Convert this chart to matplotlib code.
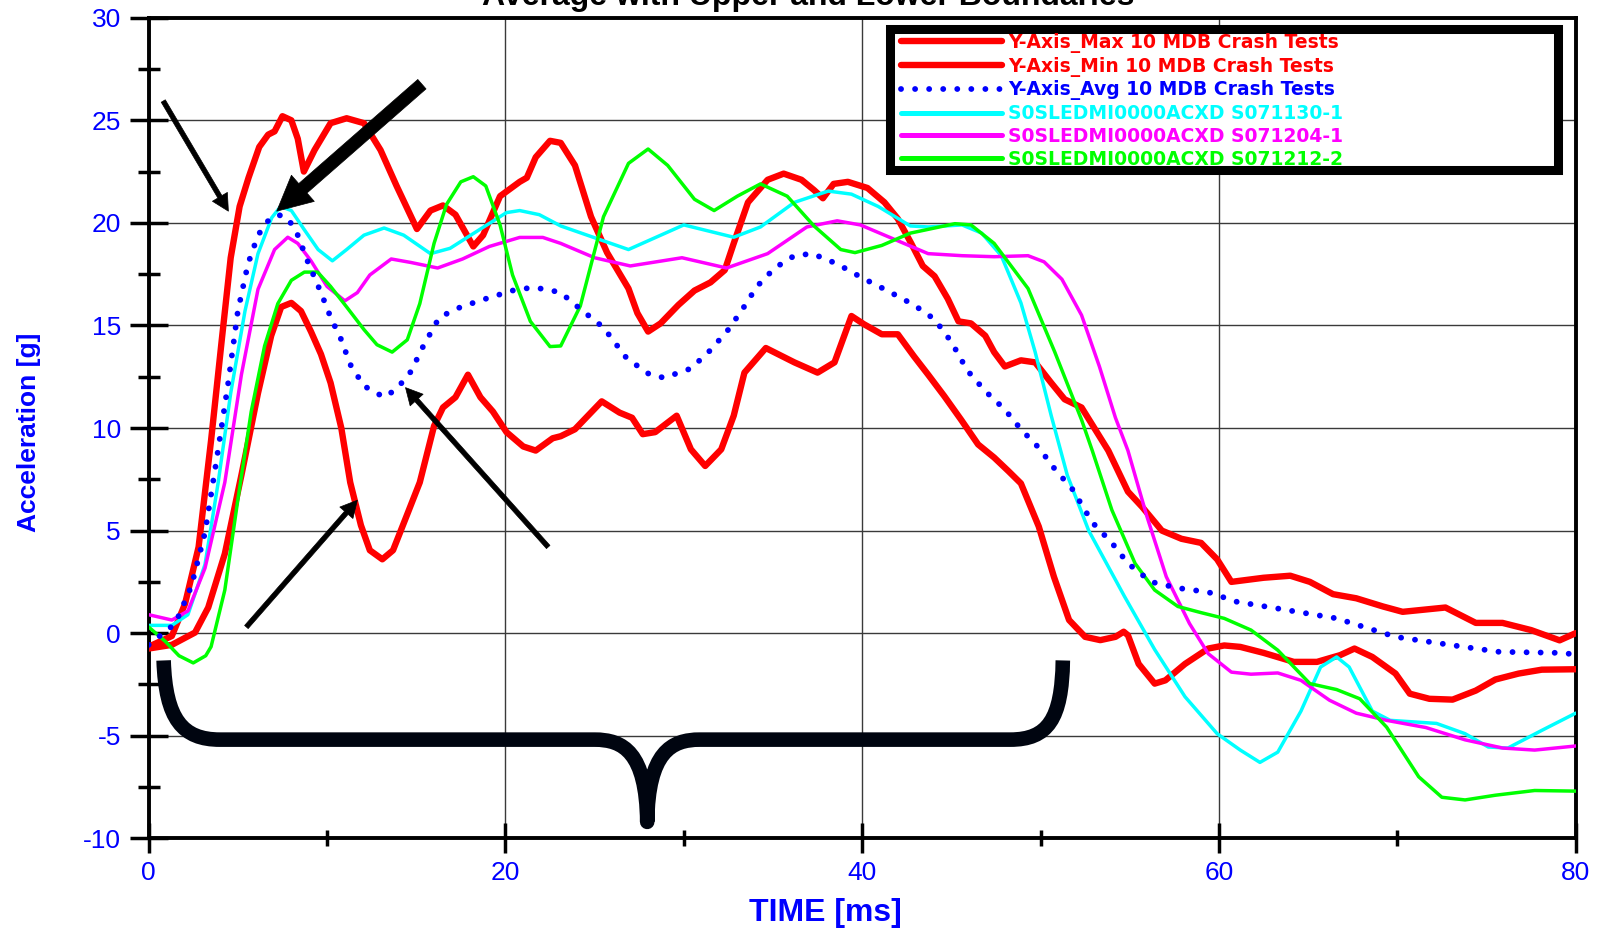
import matplotlib
matplotlib.use("Agg")
import matplotlib.pyplot as plt
from matplotlib.patches import Rectangle, PathPatch
from matplotlib.path import Path
import numpy as np

plt.rcParams['font.family'] = ['Liberation Sans', 'DejaVu Sans']
plt.rcParams['axes.unicode_minus'] = False

# --- data (time in ms, acceleration in g) ---
max_t = [0, 1.3, 2.04, 2.8, 3.5, 4.1, 4.6, 5.1, 5.6, 6.2, 6.7, 7.06, 7.5, 8.0, 8.36, 8.7,
         9.3, 10.2, 11.1, 12.07, 13.0, 13.9, 15.04, 15.8, 16.5, 17.2, 18.2, 18.75, 19.7,
         20.8, 21.2, 21.7, 22.5, 23.1, 23.9, 24.8, 25.7, 26.9, 27.4, 28.0, 28.7, 29.7, 30.6,
         31.5, 32.3, 32.8, 33.6, 34.7, 35.6, 36.6, 37.3, 37.8, 38.4, 39.2, 40.3, 41.25, 42.0,
         42.75, 43.4, 44.06, 44.8, 45.4, 46.1, 46.9, 47.4, 48.0, 48.9, 49.7, 50.6, 51.35,
         52.3, 53.8, 54.9, 55.7, 56.8, 57.9, 59.0, 59.9, 60.7, 62.5, 64.0, 65.1, 66.4, 67.7,
         69.2, 70.3, 72.7, 74.4, 75.9, 77.5, 79.1, 80]
max_g = [-0.66, -0.14, 1.43, 4.2, 9.4, 14.3, 18.3, 20.8, 22.2, 23.7, 24.3, 24.46, 25.2, 25.0,
         24.1, 22.5, 23.55, 24.86, 25.1, 24.86, 23.55, 21.8, 19.7, 20.6, 20.85, 20.4, 18.85,
         19.4, 21.3, 22.0, 22.2, 23.2, 24.0, 23.9, 22.8, 20.3, 18.55, 16.8, 15.6, 14.7, 15.1,
         16.0, 16.7, 17.1, 17.7, 19.0, 21.0, 22.1, 22.4, 22.1, 21.6, 21.2, 21.9, 22.0, 21.7,
         21.0, 20.2, 19.0, 17.9, 17.4, 16.3, 15.2, 15.1, 14.5, 13.7, 13.0, 13.3, 13.2, 12.2,
         11.4, 11.0, 8.9, 6.9, 6.15, 5.0, 4.6, 4.4, 3.6, 2.5, 2.7, 2.8, 2.5, 1.9, 1.7, 1.3,
         1.04, 1.25, 0.5, 0.5, 0.15, -0.35, 0.0]

min_t = [0, 1.3, 2.6, 3.34, 4.27, 5.2, 6.13, 6.87, 7.43, 8.0, 8.54, 9.1, 9.66, 10.2, 10.8,
         11.3, 11.9, 12.4, 13.1, 13.7, 14.5, 15.2, 16.0, 16.5, 17.2, 17.9, 18.6, 19.3, 20.06,
         21.0, 21.7, 22.65, 23.1, 23.9, 25.4, 26.4, 27.1, 27.7, 28.4, 29.6, 30.4, 31.2, 32.1,
         32.8, 33.4, 34.6, 36.2, 37.5, 38.45, 39.4, 40.1, 41.1, 42.0, 42.9, 43.7, 44.6,
         45.55, 46.5, 47.4, 48.2, 48.9, 49.9, 50.75, 51.6, 52.5, 53.35, 54.2, 54.66, 54.9,
         55.5, 56.4, 57.0, 58.1, 59.4, 60.3, 61.2, 62.5, 64.2, 65.5, 66.8, 67.6, 68.6, 69.9,
         70.7, 71.8, 73.1, 74.4, 75.5, 76.8, 78.1, 80]
min_g = [-0.75, -0.57, 0.03, 1.25, 3.87, 7.7, 11.7, 14.5, 15.9, 16.1, 15.7, 14.7, 13.6, 12.2,
         10.0, 7.35, 5.26, 4.04, 3.6, 4.04, 5.8, 7.35, 10.1, 11.0, 11.5, 12.6, 11.5, 10.8, 9.8,
         9.1, 8.9, 9.5, 9.6, 9.94, 11.3, 10.75, 10.5, 9.7, 9.8, 10.6, 8.96, 8.15, 8.96, 10.6,
         12.7, 13.9, 13.2, 12.7, 13.2, 15.46, 15.06, 14.57, 14.57, 13.5, 12.6, 11.56, 10.4,
         9.2, 8.56, 7.9, 7.3, 5.2, 2.75, 0.64, -0.18, -0.34, -0.18, 0.07, -0.1, -1.5, -2.46,
         -2.3, -1.5, -0.75, -0.6, -0.67, -0.96, -1.4, -1.4, -1.07, -0.75, -1.16, -1.97, -2.95,
         -3.2, -3.24, -2.8, -2.26, -1.97, -1.78, -1.76]

avg_t = [0, 1.5, 2.4, 3.16, 3.8, 4.46, 5.0, 5.57, 6.13, 6.7, 7.24, 7.8, 8.36, 8.9, 9.66,
         10.2, 10.8, 11.3, 12.07, 13.2, 13.9, 14.7, 15.4, 16.3, 17.5, 18.9, 20.4, 21.5, 22.3,
         23.1, 24.2, 25.5, 26.8, 28.1, 28.9, 30.4, 31.5, 32.5, 33.3, 34.1, 35.1, 36.2, 37.2,
         38.6, 40.04, 41.4, 42.9, 44.06, 45.0, 45.9, 46.9, 48.0, 48.9, 49.9, 50.8, 51.8, 52.9,
         54.0, 54.9, 56.2, 57.7, 59.4, 61.0, 63.3, 66.6, 69.9, 73.1, 75.7, 79.0, 80]
avg_g = [-0.57, 0.47, 2.3, 4.9, 8.4, 12.2, 15.7, 18.0, 19.4, 20.1, 20.4, 20.24, 19.4, 18.15,
         16.6, 15.4, 14.3, 13.1, 12.05, 11.5, 11.9, 12.75, 14.0, 15.4, 15.9, 16.3, 16.7,
         16.85, 16.76, 16.6, 15.8, 14.9, 13.4, 12.6, 12.45, 12.9, 13.8, 14.8, 15.8, 16.9,
         17.8, 18.4, 18.5, 18.0, 17.3, 16.7, 16.0, 15.3, 14.2, 12.8, 11.8, 10.9, 9.94, 9.04,
         8.0, 7.0, 5.4, 4.4, 3.4, 2.5, 2.2, 2.0, 1.53, 1.2, 0.72, -0.18, -0.59, -0.91, -0.96,
         -1.03]

cyan_t = [0, 1.3, 2.2, 3.16, 3.9, 4.6, 5.4, 6.13, 6.9, 7.4, 8.0, 8.7, 9.5, 10.3, 11.1,
          12.07, 13.2, 14.3, 15.8, 16.9, 18.6, 20.06, 20.8, 21.9, 23.1, 26.9, 30.0, 32.8,
          34.3, 36.2, 38.1, 39.4, 40.9, 42.7, 43.7, 45.6, 46.7, 47.8, 48.9, 49.7, 50.6, 51.5,
          52.7, 54.7, 56.4, 58.1, 59.9, 61.2, 62.3, 63.3, 64.6, 65.7, 66.6, 67.3, 68.6, 69.6,
          72.2, 73.8, 75.1, 76.2, 78.1, 80]
cyan_g = [0.38, 0.38, 0.9, 3.35, 7.35, 11.7, 15.7, 18.5, 20.25, 20.8, 20.6, 19.7, 18.7,
          18.15, 18.7, 19.4, 19.75, 19.4, 18.5, 18.76, 19.7, 20.5, 20.6, 20.4, 19.85, 18.7,
          19.9, 19.3, 19.8, 21.0, 21.55, 21.4, 20.8, 19.85, 19.8, 19.9, 19.5, 18.4, 16.1, 13.7,
          10.6, 7.7, 5.0, 1.8, -0.8, -3.1, -4.9, -5.7, -6.3, -5.8, -3.8, -1.65, -1.16, -1.65,
          -3.8, -4.25, -4.4, -4.9, -5.55, -5.6, -4.74, -3.9]

mag_t = [0, 1.3, 2.2, 3.16, 4.27, 5.2, 6.13, 7.06, 7.8, 8.36, 9.1, 10.0, 11.0, 11.7, 12.4,
         13.6, 14.7, 16.2, 17.6, 19.1, 20.8, 22.1, 23.1, 25.0, 27.0, 29.9, 32.4, 34.7, 36.9,
         38.6, 39.9, 41.8, 43.7, 45.6, 47.4, 49.3, 50.2, 51.2, 52.3, 53.3, 54.2, 54.9, 55.96,
         57.05, 58.35, 59.4, 60.7, 61.8, 63.3, 64.6, 66.2, 67.7, 69.4, 71.6, 73.8, 75.9, 77.7,
         80]
mag_g = [0.9, 0.64, 1.08, 3.17, 7.35, 12.6, 16.76, 18.7, 19.3, 19.0, 18.15, 16.9, 16.2,
         16.6, 17.46, 18.24, 18.07, 17.8, 18.24, 18.85, 19.29, 19.29, 19.0, 18.3, 17.9, 18.3,
         17.8, 18.5, 19.8, 20.1, 19.9, 19.2, 18.5, 18.4, 18.35, 18.4, 18.1, 17.25, 15.5, 13.0,
         10.5, 8.9, 5.7, 2.75, 0.47, -1.0, -1.9, -2.0, -1.94, -2.3, -3.27, -3.9, -4.25, -4.6,
         -5.2, -5.6, -5.7, -5.5]

grn_t = [0, 0.93, 1.7, 2.5, 3.2, 3.5, 4.27, 5.0, 5.75, 6.5, 7.24, 8.0, 8.73, 9.47, 10.2,
         11.1, 12.07, 12.8, 13.65, 14.5, 15.2, 16.0, 16.7, 17.5, 18.2, 18.9, 19.7, 20.4, 21.4,
         22.5, 23.1, 24.2, 25.5, 26.9, 28.0, 29.1, 30.6, 31.7, 33.0, 34.3, 35.8, 37.3, 38.8,
         39.6, 41.1, 42.7, 45.2, 46.1, 47.4, 49.3, 50.8, 52.3, 52.9, 54.0, 55.3, 56.4, 57.7,
         59.0, 60.3, 61.8, 63.3, 65.1, 66.6, 67.9, 69.4, 71.2, 72.5, 73.8, 75.5, 77.7, 80]
grn_g = [0.3, -0.4, -1.1, -1.45, -1.1, -0.66, 2.1, 6.5, 10.8, 14.0, 16.06, 17.2, 17.6, 17.6,
         16.9, 15.9, 14.8, 14.06, 13.7, 14.3, 16.06, 19.0, 20.9, 22.0, 22.25, 21.8, 19.9,
         17.46, 15.2, 13.97, 14.0, 15.95, 20.3, 22.9, 23.6, 22.8, 21.15, 20.6, 21.3, 21.9,
         21.3, 19.85, 18.7, 18.55, 18.9, 19.5, 19.96, 19.9, 19.0, 16.8, 13.7, 10.4, 8.9, 6.0,
         3.4, 2.1, 1.3, 1.0, 0.72, 0.15, -0.83, -2.46, -2.75, -3.2, -4.58, -7.0, -8.0, -8.13,
         -7.9, -7.67, -7.7]

labels = ['Y-Axis_Max 10 MDB Crash Tests', 'Y-Axis_Min 10 MDB Crash Tests',
          'Y-Axis_Avg 10 MDB Crash Tests', 'S0SLEDMI0000ACXD S071130-1',
          'S0SLEDMI0000ACXD S071204-1', 'S0SLEDMI0000ACXD S071212-2']
colors = ['#ff0000', '#ff0000', '#0000ff', '#00ffff', '#ff00ff', '#00ff00']

# arrows: (tail, head, thick?)
arrows = [((0.82, 25.94), (4.47, 20.57), False),
          ((15.32, 26.76), (7.18, 20.57), True),
          ((5.48, 0.3), (11.7, 6.48), False),
          ((22.4, 4.2), (14.4, 11.97), False)]

fig = plt.figure(figsize=(16.07, 9.33), dpi=100)
ax = fig.add_axes([0.0925, 0.1015, 0.888, 0.8795])

kw = dict(solid_joinstyle='round', solid_capstyle='round', zorder=3)
ax.plot(max_t, max_g, color=colors[0], lw=4.6, label=labels[0], **kw)
ax.plot(min_t, min_g, color=colors[1], lw=4.6, label=labels[1], **kw)
ax.plot(avg_t, avg_g, color=colors[2], lw=4.2, linestyle=(0, (0.01, 2.4)),
        dash_capstyle='round', label=labels[2], zorder=4)
ax.plot(cyan_t, cyan_g, color=colors[3], lw=2.5, label=labels[3], **kw)
ax.plot(mag_t, mag_g, color=colors[4], lw=2.5, label=labels[4], **kw)
ax.plot(grn_t, grn_g, color=colors[5], lw=2.5, label=labels[5], **kw)

ax.set_xlim(0, 80)
ax.set_ylim(-10, 30)
ax.set_xticks([0, 20, 40, 60, 80])
ax.set_xticks([10, 30, 50, 70], minor=True)
ax.set_yticks(np.arange(-10, 31, 5))
ax.set_yticks(np.arange(-7.5, 30, 5), minor=True)
ax.grid(which='major', color='#3a3a3a', lw=1.0)
ax.grid(which='minor', visible=False)
for s in ax.spines.values():
    s.set_linewidth(2.8)

ax.tick_params(axis='y', which='major', direction='inout', length=28, width=2.5,
               labelsize=19, labelcolor='#0000ff', pad=6)
ax.tick_params(axis='y', which='minor', direction='inout', length=16, width=2.5)
ax.tick_params(axis='x', which='major', direction='inout', length=22, width=2.5,
               labelsize=19, labelcolor='#0000ff', pad=5)
ax.tick_params(axis='x', which='minor', direction='inout', length=12, width=2.5)

fig.text(825 / 1607, 1 - 913 / 933, 'TIME [ms]', ha='center', va='center',
         fontsize=23, fontweight='bold', color='#0000ff')
fig.text(29 / 1607, 1 - 432 / 933, 'Acceleration [g]', ha='center', va='center',
         rotation=90, fontsize=19, fontweight='bold', color='#0000ff')
fig.text(0.503, 1 - 5 / 933, 'Average with Upper and Lower Boundaries', ha='center',
         va='baseline', fontsize=23, fontweight='bold', color='black')

# legend box
box = Rectangle((890 / 1607, 1 - 170 / 933), (1558 - 890) / 1607, (170 - 29) / 933,
                transform=fig.transFigure, facecolor='white', edgecolor='black', lw=6.5,
                zorder=10, clip_on=False)
ax.add_patch(box)
leg = ax.legend(loc='upper left', bbox_to_anchor=(901 / 1607, 1 - 33 / 933),
                bbox_transform=fig.transFigure, frameon=False,
                prop={'family': 'DejaVu Sans', 'weight': 'bold', 'size': 13.5},
                handlelength=5.4, handletextpad=0.3, labelspacing=0.2,
                borderpad=0, borderaxespad=0)
leg.set_zorder(11)
for txt, c in zip(leg.get_texts(), colors):
    txt.set_color(c)
for i, ln in enumerate(leg.get_lines()):
    if i != 2:
        ln.set_linewidth(4.6 if i < 2 else 3.6)

# arrows
for tail, head, thick in arrows:
    if thick:
        style = 'simple,head_length=2.5,head_width=2.5,tail_width=0.9'
    else:
        style = 'simple,head_length=1.2,head_width=1.25,tail_width=0.34'
    ax.annotate('', xy=head, xytext=tail,
                arrowprops=dict(arrowstyle=style, mutation_scale=10, fc='black',
                                ec='black', lw=0.5, shrinkA=0, shrinkB=0),
                zorder=8)

# curly brace
brace_pts = [(0.84, -1.33), (0.95, -4.2), (1.9, -5.19), (4.0, -5.19),
             (25.0, -5.19),
             (26.6, -5.19), (27.9, -5.8), (27.95, -9.2),
             (28.0, -5.8), (29.3, -5.19), (30.9, -5.19),
             (48.3, -5.19),
             (50.4, -5.19), (51.2, -4.2), (51.25, -1.33)]
brace_codes = [Path.MOVETO, Path.CURVE4, Path.CURVE4, Path.CURVE4,
               Path.LINETO,
               Path.CURVE4, Path.CURVE4, Path.CURVE4,
               Path.CURVE4, Path.CURVE4, Path.CURVE4,
               Path.LINETO,
               Path.CURVE4, Path.CURVE4, Path.CURVE4]
brace = PathPatch(Path(brace_pts, brace_codes), facecolor='none', edgecolor='#000510',
                  lw=10.5, capstyle='butt', joinstyle='round', zorder=8)
ax.add_patch(brace)

fig.savefig('out.png', dpi=100)
